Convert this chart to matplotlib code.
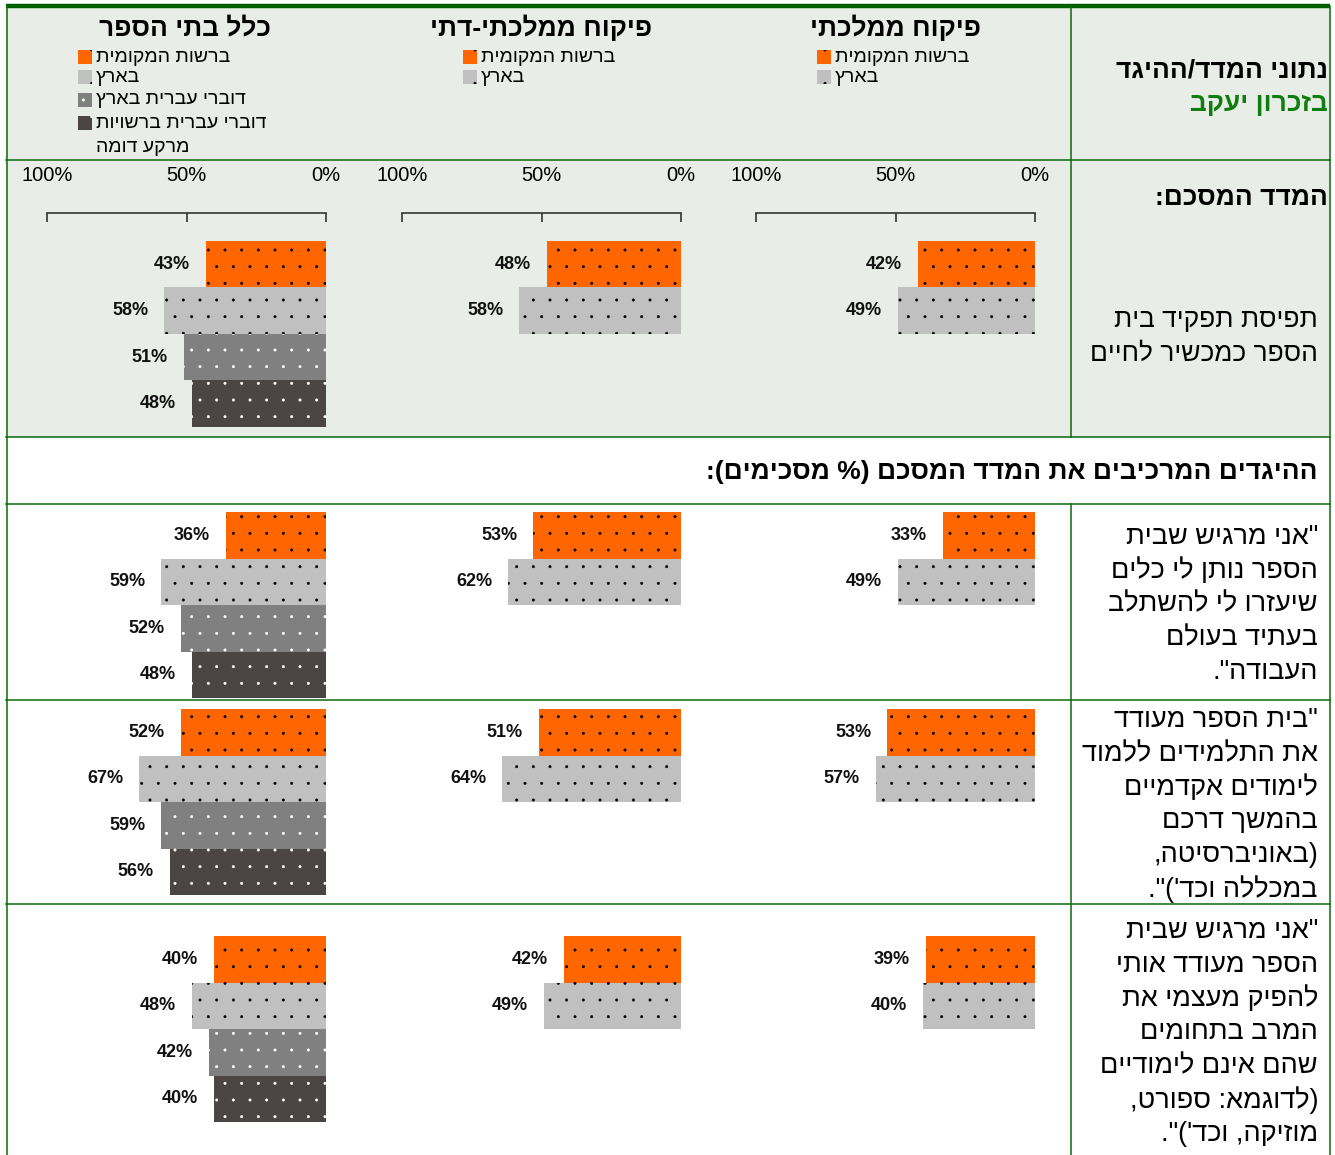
import re
import matplotlib
matplotlib.use('Agg')
import matplotlib.pyplot as plt
import matplotlib.hatch
from matplotlib.patches import Rectangle

W, H = 1335, 1155
plt.rcParams['font.family'] = ['Liberation Sans', 'DejaVu Sans']
plt.rcParams['hatch.linewidth'] = 0.4
matplotlib.hatch.SmallFilledCircles.size = 0.07  # puntos mas pequenos

# ------------- datos -------------
col_titles = ['פיקוח ממלכתי', 'פיקוח ממלכתי-דתי', 'כלל בתי הספר']
series_names = ['ברשות המקומית', 'בארץ', 'דוברי עברית בארץ', 'דוברי עברית ברשויות\nמרקע דומה']
series_colors = ['#FF6600', '#C0C0C0', '#808080', '#4B4643']
dot_colors = ['black', 'black', 'white', 'white']

# fila 0 = indice resumen, filas 1-3 = enunciados
mamlachti = [[42, 49], [33, 49], [53, 57], [39, 40]]
mamlachti_dati = [[48, 58], [53, 62], [51, 64], [42, 49]]
kol_batei_sefer = [[43, 58, 51, 48], [36, 59, 52, 48], [52, 67, 59, 56], [40, 48, 42, 40]]
columns = [mamlachti, mamlachti_dati, kol_batei_sefer]

scale_ticks = [100, 50, 0]
scale_labels = ['100%', '50%', '0%']

header_title = 'נתוני המדד/ההיגד'
header_place = 'בזכרון יעקב'
summary_title = 'המדד המסכם:'
summary_lines = ['תפיסת תפקיד בית', 'הספר כמכשיר לחיים']
section_title = 'ההיגדים המרכיבים את המדד המסכם (% מסכימים):'
statements = [
    ['"אני מרגיש שבית', 'הספר נותן לי כלים', 'שיעזרו לי להשתלב', 'בעתיד בעולם', 'העבודה".'],
    ['"בית הספר מעודד', 'את התלמידים ללמוד', 'לימודים אקדמיים', 'בהמשך דרכם',
     '(באוניברסיטה,', "במכללה וכד')\"."],
    ['"אני מרגיש שבית', 'הספר מעודד אותי', 'להפיק מעצמי את', 'המרב בתחומים',
     'שהם אינם לימודיים', '(לדוגמא: ספורט,', "מוזיקה, וכד')\"."],
]

# ------------- layout (pixeles) -------------
col_left = [756, 402, 47]       # posicion del 100%
col_w = 279
col_center = [895, 541, 185]
legend_x = [817, 463, 78]
legend_y = [57, 77, 100, 123]
row_top = [241, 512, 709, 936]
slot_h = 46.5
stmt_y0 = [537, 720, 931]
line_h = 33.8
GREEN = '#0B6A0B'
BG = '#E9EDE7'


def rtl(s):
    # orden visual simple para hebreo
    out = s[::-1].translate(str.maketrans('()', ')('))
    return re.sub(r'[0-9A-Za-z]+', lambda m: m.group(0)[::-1], out)


fig = plt.figure(figsize=(W / 100, H / 100), dpi=100)
bg = fig.add_axes([0, 0, 1, 1], zorder=0)
bg.set_xlim(0, W); bg.set_ylim(H, 0); bg.axis('off')

# fondo y lineas de la tabla
bg.add_patch(Rectangle((6, 8), 1324, 429, facecolor=BG, edgecolor='none'))
bg.plot([6, 1330], [6, 6], color='#006000', lw=3.2, solid_capstyle='butt')
for y in [160, 437, 504, 700, 904]:
    bg.plot([6, 1330], [y, y], color=GREEN, lw=1.1)
bg.plot([6.5, 6.5], [6, H], color=GREEN, lw=1.1)
bg.plot([1329.5, 1329.5], [6, H], color=GREEN, lw=1.1)
bg.plot([1071, 1071], [6, 437], color=GREEN, lw=1.1)
bg.plot([1071, 1071], [504, H], color=GREEN, lw=1.1)

# textos columna derecha
bg.text(1328, 71, rtl(header_title), ha='right', va='center', fontsize=19, fontweight='bold')
bg.text(1328, 104, rtl(header_place), ha='right', va='center', fontsize=19, fontweight='bold', color='#0E7F0E')
bg.text(1328, 198, rtl(summary_title), ha='right', va='center', fontsize=19, fontweight='bold')
for k, line in enumerate(summary_lines):
    bg.text(1318, 320 + k * line_h, rtl(line), ha='right', va='center', fontsize=19)
bg.text(1318, 472, rtl(section_title), ha='right', va='center', fontsize=19, fontweight='bold')
for r, lines in enumerate(statements):
    for k, line in enumerate(lines):
        bg.text(1318, stmt_y0[r] + k * line_h, rtl(line), ha='right', va='center', fontsize=19.5)

# titulos y leyendas de columnas
for c, title in enumerate(col_titles):
    bg.text(col_center[c], 28, rtl(title), ha='center', va='center', fontsize=19, fontweight='bold')
    n = len(columns[c][0])
    for i in range(n):
        y = legend_y[i]
        bg.add_patch(Rectangle((legend_x[c], y - 7), 14, 14, facecolor=series_colors[i],
                               edgecolor=dot_colors[i], hatch='.', linewidth=0))
        for k, part in enumerate(series_names[i].split('\n')):
            bg.text(legend_x[c] + 18, y + k * 24, rtl(part), ha='left', va='center', fontsize=14)


def px_axes(x0, y0, w, h):
    return fig.add_axes([x0 / W, 1 - (y0 + h) / H, w / W, h / H], zorder=2)


# barras
for c, data in enumerate(columns):
    for r, vals in enumerate(data):
        ax = px_axes(col_left[c], row_top[r], col_w, 4 * slot_h)
        ax.set_facecolor('none')
        ax.set_xlim(100, 0)
        ax.set_ylim(3.5, -0.5)
        for i, v in enumerate(vals):
            ax.barh(i, v, height=1.0, color=series_colors[i], edgecolor=dot_colors[i],
                    hatch='.', linewidth=0)
            ax.annotate(f'{v}%', xy=(v, i), xytext=(-11.5, 0), textcoords='offset points',
                        ha='right', va='center', fontsize=13, fontweight='bold', color='#111111')
        for s in ['left', 'right', 'bottom']:
            ax.spines[s].set_visible(False)
        ax.set_yticks([])
        if r == 0:
            ax.spines['top'].set_position(('outward', 20))
            ax.spines['top'].set_color('#333333')
            ax.spines['top'].set_linewidth(1.2)
            ax.xaxis.set_ticks_position('top')
            ax.set_xticks(scale_ticks)
            ax.set_xticklabels(scale_labels, fontsize=14.5)
            ax.tick_params(axis='x', direction='in', length=6.5, width=1.2, color='#333333', pad=20)
        else:
            ax.spines['top'].set_visible(False)
            ax.set_xticks([])

fig.savefig('out.png', dpi=100)
